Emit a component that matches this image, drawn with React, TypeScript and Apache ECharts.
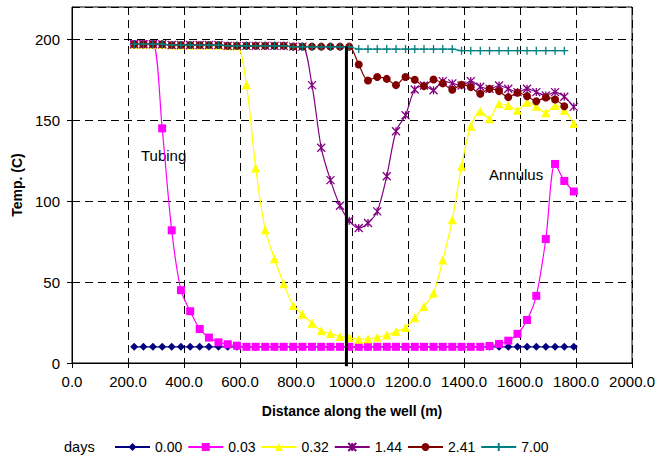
import React, { useEffect, useRef } from "react";
import * as echarts from "echarts";

const X_VALUES = [
  222, 255, 289, 322, 356, 389, 422, 456, 489, 523, 556, 589, 623, 656, 690, 723,
  756, 790, 823, 857, 890, 923, 957, 990, 1024, 1057, 1090, 1124, 1157, 1191, 1224, 1257,
  1291, 1324, 1358, 1391, 1424, 1458, 1491, 1525, 1558, 1591, 1625, 1658, 1692, 1725, 1758, 1792,
];

const T_000 = [
  10, 10, 10, 10, 10, 10, 10, 10, 10, 10, 10, 10, 10, 10, 10, 10,
  10, 10, 10, 10, 10, 10, 10, 10, 10, 10, 10, 10, 10, 10, 10, 10,
  10, 10, 10, 10, 10, 10, 10, 10, 10, 10, 10, 10, 10, 10, 10, 10,
];

const T_003 = [
  197, 197, 197, 145, 82, 45, 32, 21, 15.7, 12.8, 11.6, 10.7, 10, 10, 10, 10,
  10, 10, 10, 10, 10, 10, 10, 10, 10, 10, 10, 10, 10, 10, 10, 10,
  10, 10, 10, 10, 10, 10, 10.5, 11.8, 13.8, 18, 26.6, 41.5, 76.6, 123, 112.5, 106,
];

const T_032 = [
  197, 197, 197, 197, 196.5, 196.5, 196.5, 196.5, 196.5, 196.5, 196, 196, 172, 120.5, 82.3, 64.4,
  48.9, 35.5, 30.1, 24.6, 20, 18.2, 16.3, 15.7, 14.7, 15, 15.9, 17.3, 19.4, 21.9, 28, 34.9,
  43.1, 63.6, 88.5, 121.6, 146.3, 155.6, 150.9, 160.2, 159.1, 156.2, 161.2, 158.7, 154.6, 159.1, 156.2, 148,
];

const T_144 = [
  197, 197, 197, 197, 196.5, 196.5, 196.5, 196.5, 196.5, 196.5, 196, 196, 196, 196, 196, 196,
  196, 195.5, 195.5, 171.7, 133, 113, 97.2, 87.9, 83.4, 86.5, 93.7, 115.4, 143.2, 153.1, 169, 171.5,
  168.6, 174.2, 172.8, 171.5, 174.2, 170.7, 169.4, 171.5, 169.5, 167.4, 169.5, 167.4, 165.3, 167.4, 164.5, 158.3,
];

const T_241 = [
  197, 197, 197, 197, 196.5, 196.5, 196.5, 196.5, 196.5, 196.5, 196, 196, 196, 196, 196, 196,
  196, 195.5, 195.5, 195.5, 195.5, 195.5, 195.5, 195.5, 184.5, 174.6, 176.7, 175.6, 171.7, 176.7, 175, 171.1,
  175.2, 172.8, 168.9, 171.9, 170.5, 166.4, 169.4, 168, 164.3, 167, 164.9, 161.8, 164.1, 162.8, 158.7, null,
];

const T_700 = [
  197, 197, 197, 197, 196.5, 196.5, 196.5, 196.5, 196.5, 196.5, 196, 196, 196, 196, 196, 196,
  196, 195.3, 195.3, 195.3, 195.3, 195.3, 195.3, 195.3, 194, 194, 194, 194, 194, 194, 194, 194,
  194, 194, 194, 193, 193, 193, 193, 193, 193, 193, 193, 193, 193, 193, 193, null,
];

const SERIES_NAMES = ["0.00", "0.03", "0.32", "1.44", "2.41", "7.00"];
const SERIES_VALUES = [T_000, T_003, T_032, T_144, T_241, T_700];
const SERIES_COLORS = ["#000080", "#FF00FF", "#FFFF00", "#800080", "#800000", "#008080"];
const SERIES_SYMBOLS = [
  "diamond",
  "rect",
  "triangle",
  "path://M0 0L10 10M10 0L0 10M5 0L5 10",
  "circle",
  "path://M0 5L10 5M5 0L5 10",
];
const SERIES_SYMBOL_SIZES = [8, 8, 9, 8, 8, 8];

const DIVIDER_X = [980, 980];
const DIVIDER_Y = [-2, 195.6];

const X_TICKS = { min: 0, max: 2000, interval: 200 };
const Y_TICKS = { min: 0, max: 220, interval: 50 };

const FONT = "'Liberation Sans', Arial, sans-serif";

export default function App() {
  const ref = useRef<HTMLDivElement>(null);

  useEffect(() => {
    if (!ref.current) return;
    const chart = echarts.init(ref.current, undefined, { renderer: "svg" });

    const series: any[] = SERIES_NAMES.map((name, si) => {
      const isStroke = SERIES_SYMBOLS[si].startsWith("path://");
      return {
        name,
        type: "line",
        data: X_VALUES.map((x, i) => [x, SERIES_VALUES[si][i]]).filter(
          (p) => p[1] !== null && p[1] !== undefined
        ),
        symbol: SERIES_SYMBOLS[si],
        symbolSize: SERIES_SYMBOL_SIZES[si],
        showAllSymbol: true,
        smooth: 0.3,
        lineStyle: { color: SERIES_COLORS[si], width: 1.2 },
        itemStyle: isStroke
          ? { color: SERIES_COLORS[si], borderColor: SERIES_COLORS[si], borderWidth: 1.3 }
          : { color: SERIES_COLORS[si], borderWidth: 0 },
        emphasis: { disabled: true },
        z: 2 + si,
      };
    });

    series.push({
      name: "divider",
      type: "line",
      data: DIVIDER_X.map((x, i) => [x, DIVIDER_Y[i]]),
      symbol: "none",
      clip: false,
      lineStyle: { color: "#000", width: 3 },
      emphasis: { disabled: true },
      z: 20,
    });

    chart.setOption({
      animation: false,
      textStyle: { fontFamily: FONT },
      grid: {
        left: 72,
        right: 24,
        top: 7,
        bottom: 97,
        show: true,
        borderColor: "#000",
        borderWidth: 1,
        backgroundColor: "#fff",
      },
      xAxis: {
        type: "value",
        min: X_TICKS.min,
        max: X_TICKS.max,
        interval: X_TICKS.interval,
        name: "Distance along the well (m)",
        nameLocation: "middle",
        nameGap: 41,
        nameTextStyle: { fontSize: 14, fontWeight: "bold", color: "#000", fontFamily: FONT },
        axisLine: { show: true, lineStyle: { color: "#000", width: 1 } },
        axisTick: { show: true, length: 5, lineStyle: { color: "#000" } },
        axisLabel: {
          fontSize: 15,
          color: "#000",
          margin: 11,
          fontFamily: FONT,
          formatter: (v: number) => v.toFixed(1),
        },
        splitLine: { show: true, lineStyle: { color: "#000", type: [8, 5], width: 1 } },
      },
      yAxis: {
        type: "value",
        min: Y_TICKS.min,
        max: Y_TICKS.max,
        interval: Y_TICKS.interval,
        name: "Temp. (C)",
        nameLocation: "middle",
        nameGap: 47,
        nameTextStyle: { fontSize: 14, fontWeight: "bold", color: "#000", fontFamily: FONT },
        axisLine: { show: true, lineStyle: { color: "#000", width: 1 } },
        axisTick: { show: true, length: 5, lineStyle: { color: "#000" } },
        axisLabel: {
          fontSize: 15,
          color: "#000",
          margin: 12,
          fontFamily: FONT,
          showMaxLabel: false,
        },
        splitLine: { show: true, lineStyle: { color: "#000", type: [8, 5], width: 1 } },
      },
      legend: {
        data: SERIES_NAMES,
        left: 114,
        top: 440,
        padding: 0,
        orient: "horizontal",
        itemWidth: 35,
        itemHeight: 10,
        itemGap: 5,
        selectedMode: false,
        textStyle: { fontSize: 14, color: "#000", fontFamily: FONT },
      },
      graphic: [
        {
          type: "text",
          left: 64,
          top: 439,
          style: { text: "days", fontSize: 14.5, fill: "#000", fontFamily: FONT },
        },
        {
          type: "text",
          left: 141,
          top: 148,
          style: { text: "Tubing", fontSize: 15, fill: "#000", fontFamily: FONT },
        },
        {
          type: "text",
          left: 489,
          top: 167,
          style: { text: "Annulus", fontSize: 15, fill: "#000", fontFamily: FONT },
        },
      ],
      series,
    });

    return () => chart.dispose();
  }, []);

  return (
    <div
      ref={ref}
      style={{ position: "fixed", left: 0, top: 0, width: 658, height: 460, background: "#fff" }}
    />
  );
}
